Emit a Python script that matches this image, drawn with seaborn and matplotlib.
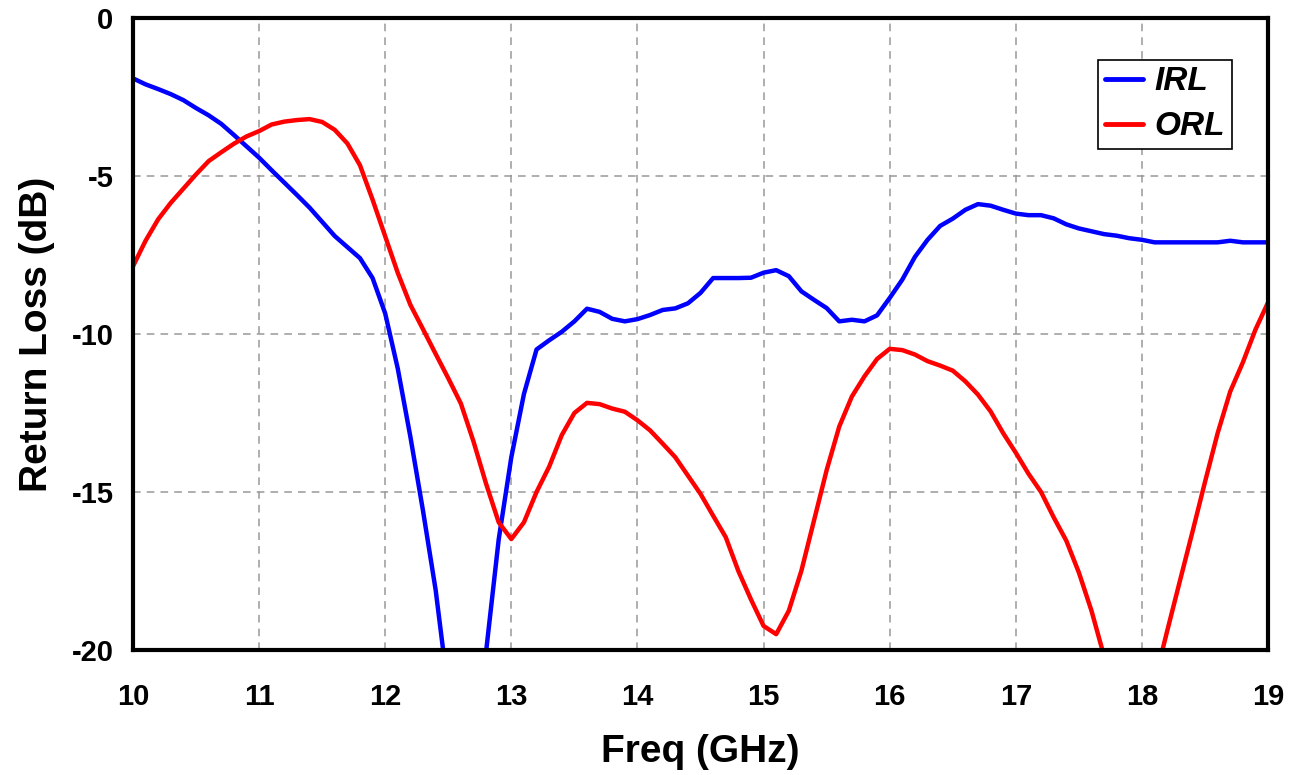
import numpy as np
import pandas as pd
import matplotlib
matplotlib.use('Agg')
import matplotlib.pyplot as plt
import seaborn as sns

freq = [10.0, 10.1, 10.2, 10.3, 10.4, 10.5, 10.6, 10.7, 10.8, 10.9,
        11.0, 11.1, 11.2, 11.3, 11.4, 11.5, 11.6, 11.7, 11.8, 11.9,
        12.0, 12.1, 12.2, 12.3, 12.4, 12.5, 12.6, 12.7, 12.8, 12.9,
        13.0, 13.1, 13.2, 13.3, 13.4, 13.5, 13.6, 13.7, 13.8, 13.9,
        14.0, 14.1, 14.2, 14.3, 14.4, 14.5, 14.6, 14.7, 14.8, 14.9,
        15.0, 15.1, 15.2, 15.3, 15.4, 15.5, 15.6, 15.7, 15.8, 15.9,
        16.0, 16.1, 16.2, 16.3, 16.4, 16.5, 16.6, 16.7, 16.8, 16.9,
        17.0, 17.1, 17.2, 17.3, 17.4, 17.5, 17.6, 17.7, 17.8, 17.9,
        18.0, 18.1, 18.2, 18.3, 18.4, 18.5, 18.6, 18.7, 18.8, 18.9,
        19.0]

irl = [-1.91, -2.1, -2.25, -2.41, -2.6, -2.85, -3.08, -3.35, -3.7, -4.06,
       -4.42, -4.82, -5.21, -5.6, -6.0, -6.45, -6.9, -7.25, -7.6, -8.23,
       -9.35, -11.1, -13.26, -15.6, -18.1, -21.3, -24.0, -22.5, -20.05, -16.5,
       -13.9, -11.9, -10.49, -10.2, -9.93, -9.6, -9.2, -9.3, -9.52, -9.6,
       -9.53, -9.4, -9.24, -9.19, -9.03, -8.7, -8.23, -8.23, -8.23, -8.22,
       -8.06, -7.98, -8.17, -8.65, -8.92, -9.18, -9.6, -9.55, -9.6, -9.41,
       -8.86, -8.28, -7.56, -7.02, -6.58, -6.35, -6.07, -5.89, -5.94, -6.07,
       -6.19, -6.24, -6.24, -6.34, -6.53, -6.66, -6.75, -6.84, -6.89, -6.97,
       -7.02, -7.1, -7.1, -7.1, -7.1, -7.1, -7.1, -7.05, -7.1, -7.1,
       -7.1]

orl = [-7.86, -7.05, -6.37, -5.85, -5.4, -4.95, -4.53, -4.25, -3.98, -3.75,
       -3.58, -3.37, -3.28, -3.23, -3.2, -3.29, -3.54, -3.97, -4.66, -5.75,
       -6.91, -8.07, -9.08, -9.85, -10.63, -11.4, -12.2, -13.4, -14.74, -15.96,
       -16.49, -15.96, -15.0, -14.2, -13.2, -12.5, -12.18, -12.22, -12.36, -12.46,
       -12.73, -13.05, -13.47, -13.9, -14.48, -15.06, -15.75, -16.43, -17.5, -18.4,
       -19.24, -19.5, -18.76, -17.49, -15.9, -14.31, -12.93, -11.98, -11.34, -10.79,
       -10.47, -10.51, -10.65, -10.86, -11.0, -11.16, -11.5, -11.92, -12.45, -13.14,
       -13.76, -14.42, -15.0, -15.8, -16.54, -17.55, -18.76, -20.2, -22.0, -23.5,
       -23.5, -21.0, -19.4, -17.83, -16.27, -14.68, -13.14, -11.82, -10.9, -9.86,
       -9.0]

data = pd.concat([
    pd.DataFrame({'Freq': freq, 'RL': irl, 'Trace': 'IRL'}),
    pd.DataFrame({'Freq': freq, 'RL': orl, 'Trace': 'ORL'}),
])

sns.set_style('white')
plt.rcParams['font.family'] = ['Liberation Sans', 'DejaVu Sans']
plt.rcParams['font.weight'] = 'bold'
plt.rcParams['text.color'] = 'black'
plt.rcParams['axes.labelcolor'] = 'black'
plt.rcParams['xtick.labelcolor'] = 'black'
plt.rcParams['ytick.labelcolor'] = 'black'

fig = plt.figure(figsize=(12.97, 7.75), dpi=100)
ax = fig.add_axes([0.1025, 0.1613, 0.8752, 0.8155])

sns.lineplot(data=data, x='Freq', y='RL', hue='Trace',
             palette={'IRL': '#0000FF', 'ORL': '#FF0000'},
             linewidth=3.2, ax=ax)

ax.set_xlim(10, 19)
ax.set_ylim(-20, 0)
ax.set_xticks(range(10, 20))
ax.set_yticks([-20, -15, -10, -5, 0])
ax.set_yticklabels(['-20', '-15', '-10', '-5', '0'])
ax.grid(True, color='#999999', linestyle=(0, (5, 4)), linewidth=1.1)

for s in ax.spines.values():
    s.set_color('black')
    s.set_linewidth(3)

ax.tick_params(axis='both', direction='out', length=6, width=1.2,
               color='#555555', labelsize=21, pad=8)
ax.tick_params(axis='x', pad=18)
for lab in ax.get_xticklabels() + ax.get_yticklabels():
    lab.set_fontweight('bold')
    lab.set_color('black')

ax.set_xlabel('Freq (GHz)', fontsize=28, fontweight='bold', labelpad=16)
ax.set_ylabel('Return Loss (dB)', fontsize=28, fontweight='bold', labelpad=12)

leg = ax.legend(loc='upper right', bbox_to_anchor=(0.968, 0.934),
                borderaxespad=0,
                fancybox=False, framealpha=1, edgecolor='black',
                handlelength=1.15, handletextpad=0.35, borderpad=0.2,
                labelspacing=0.42,
                prop={'size': 24, 'weight': 'bold', 'style': 'italic'})
leg.get_frame().set_linewidth(1.2)
for line in leg.get_lines():
    line.set_linewidth(3.5)
for t in leg.get_texts():
    t.set_color('black')

fig.savefig('out.png', dpi=100)
